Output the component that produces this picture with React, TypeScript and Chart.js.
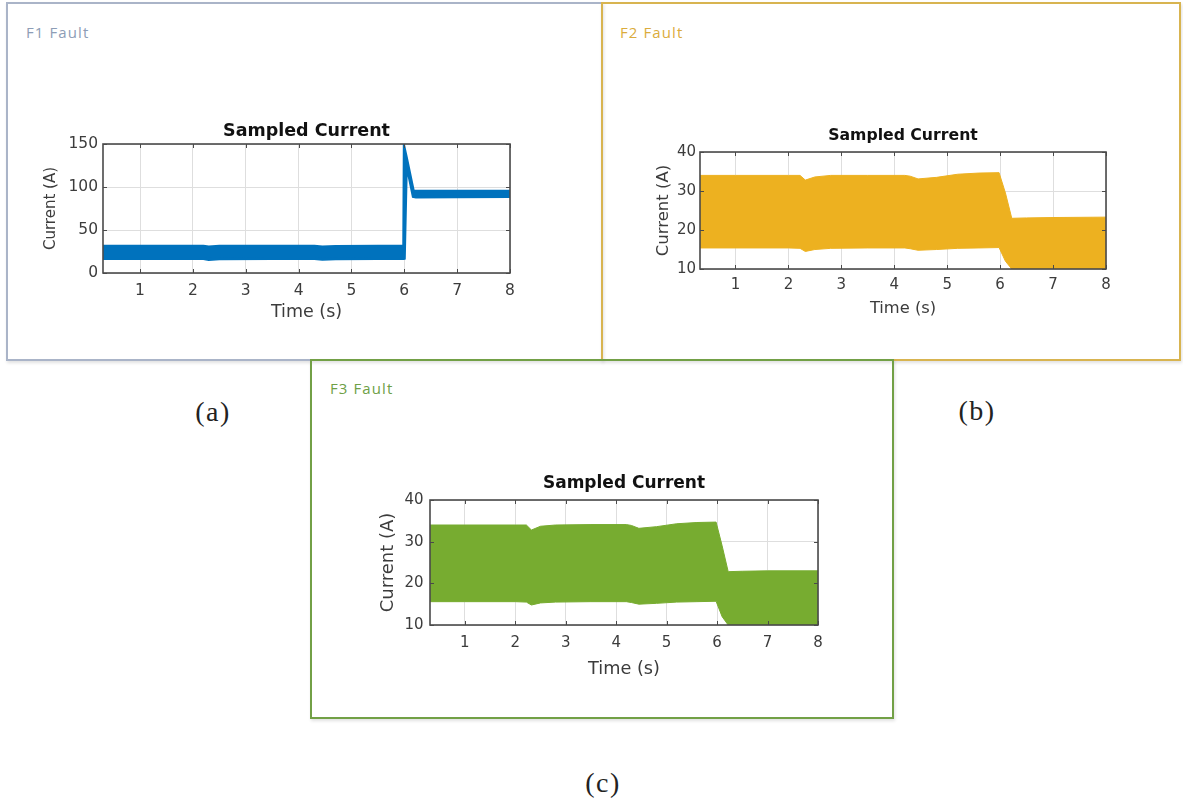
import React, { useEffect, useRef } from 'react';
import { Chart, registerables } from 'chart.js';

Chart.register(...registerables);

// ---------- data ----------
const xTicks = [1, 2, 3, 4, 5, 6, 7, 8];
const yTicksA = [0, 50, 100, 150];
const yTicksB = [10, 20, 30, 40];
const yTicksC = [10, 20, 30, 40];

// F1 fault: envelope of the sampled current (A)
const timeA = [0.3, 1.0, 2.2, 2.3, 2.5, 3.5, 4.3, 4.45, 4.7, 5.5, 5.99, 6.0, 6.04, 6.17, 6.22, 7.0, 8.0];
const upperA = [31, 31, 31, 30.2, 31, 31, 31, 30.3, 30.8, 31.2, 31.2, 145, 134, 95.5, 95, 95, 95];
const lowerA = [16.8, 16.8, 16.8, 15.8, 16.5, 16.8, 16.8, 16.0, 16.5, 16.8, 16.8, 17, 128, 89, 88.5, 88.8, 89];

// F2 fault
const timeB = [0.3, 1.0, 2.0, 2.22, 2.32, 2.5, 2.8, 3.5, 4.2, 4.3, 4.45, 4.8, 5.2, 5.6, 5.98, 6.1, 6.22, 6.5, 7.0, 8.0];
const upperB = [34.0, 34.0, 34.0, 34.0, 32.8, 33.6, 34.0, 34.0, 34.0, 33.8, 33.1, 33.5, 34.3, 34.6, 34.7, 29.5, 23.0, 23.1, 23.2, 23.3];
const lowerB = [15.4, 15.4, 15.4, 15.3, 14.5, 15.0, 15.3, 15.4, 15.4, 15.2, 14.8, 15.0, 15.3, 15.4, 15.5, 12.0, 10.0, 10.0, 10.0, 10.0];

// F3 fault
const timeC = [0.3, 1.0, 2.0, 2.22, 2.32, 2.5, 2.8, 3.5, 4.2, 4.3, 4.45, 4.8, 5.2, 5.6, 5.98, 6.1, 6.22, 6.5, 7.0, 8.0];
const upperC = [34.0, 34.0, 34.0, 34.0, 32.8, 33.7, 34.0, 34.1, 34.1, 33.9, 33.2, 33.6, 34.3, 34.6, 34.7, 29.0, 22.8, 22.9, 23.0, 23.0];
const lowerC = [15.6, 15.6, 15.6, 15.5, 14.8, 15.3, 15.5, 15.6, 15.6, 15.4, 15.0, 15.2, 15.5, 15.6, 15.7, 12.0, 10.0, 10.0, 10.0, 10.0];

const chartTitle = 'Sampled Current';
const xTitle = 'Time (s)';
const yTitle = 'Current (A)';

// ---------- styling ----------
const FONT = 'DejaVu Sans';
const TEXT = '#3c3c3c';
const GRID = '#dedede';
const FRAME = '#4a4a4a';

const framePlugin = {
  id: 'matlabFrame',
  afterDatasetsDraw(chart: any) {
    const { ctx, chartArea } = chart;
    const { left, right, top, bottom } = chartArea;
    const xs = chart.scales.x;
    const ys = chart.scales.y;
    const L = 4;
    ctx.save();
    ctx.strokeStyle = FRAME;
    ctx.lineWidth = 1;
    ctx.beginPath();
    xs.ticks.forEach((t: any) => {
      const px = Math.round(xs.getPixelForValue(t.value)) + 0.5;
      ctx.moveTo(px, bottom);
      ctx.lineTo(px, bottom - L);
      ctx.moveTo(px, top);
      ctx.lineTo(px, top + L);
    });
    ys.ticks.forEach((t: any) => {
      const py = Math.round(ys.getPixelForValue(t.value)) + 0.5;
      ctx.moveTo(left, py);
      ctx.lineTo(left + L, py);
      ctx.moveTo(right, py);
      ctx.lineTo(right - L, py);
    });
    ctx.stroke();
    ctx.lineWidth = 1.6;
    ctx.strokeRect(left, top, right - left, bottom - top);
    ctx.restore();
  },
};

type Spec = {
  left: number; top: number; width: number; height: number;
  yWidth: number; xHeight: number; padRight: number;
  titleSize: number; titlePadTop: number; titlePadBottom: number;
  tickSize: number; yTickPad: number; xTickPad: number;
  yTitleSize: number; xTitleSize: number;
  color: string; bw: number;
  time: number[]; upper: number[]; lower: number[];
  yMin: number; yMax: number; yTicks: number[];
  xMin: number; xMax: number;
};

function Panel({ s }: { s: Spec }) {
  const ref = useRef<HTMLCanvasElement | null>(null);
  useEffect(() => {
    if (!ref.current) return;
    const up = s.time.map((t, i) => ({ x: t, y: s.upper[i] }));
    const lo = s.time.map((t, i) => ({ x: t, y: s.lower[i] }));
    const chart = new Chart(ref.current, {
      type: 'line',
      data: {
        datasets: [
          { data: up, borderColor: s.color, backgroundColor: s.color, borderWidth: s.bw, pointRadius: 0, fill: false, tension: 0 },
          { data: lo, borderColor: s.color, backgroundColor: s.color, borderWidth: s.bw, pointRadius: 0, fill: '-1', tension: 0 },
        ],
      } as any,
      options: {
        responsive: false,
        animation: false,
        devicePixelRatio: 1,
        layout: { padding: { left: 0, right: s.padRight, top: 0, bottom: 0 } },
        plugins: {
          legend: { display: false },
          tooltip: { enabled: false },
          title: {
            display: true,
            text: chartTitle,
            fullSize: false,
            color: '#111111',
            font: { family: FONT, size: s.titleSize, weight: 'bold', lineHeight: 1.2 },
            padding: { top: s.titlePadTop, bottom: s.titlePadBottom },
          },
        },
        scales: {
          x: {
            type: 'linear',
            min: s.xMin,
            max: s.xMax,
            afterBuildTicks: (sc: any) => { sc.ticks = xTicks.map((v) => ({ value: v })); },
            afterFit: (sc: any) => { sc.height = s.xHeight; sc.paddingLeft = 0; sc.paddingRight = 0; },
            grid: { color: GRID, lineWidth: 1, drawTicks: false },
            border: { display: false },
            ticks: { color: TEXT, font: { family: FONT, size: s.tickSize, lineHeight: 1.2 }, padding: s.xTickPad, maxRotation: 0, autoSkip: false },
            title: { display: true, text: xTitle, color: TEXT, font: { family: FONT, size: s.xTitleSize, lineHeight: 1.2 }, padding: 0 },
          },
          y: {
            type: 'linear',
            min: s.yMin,
            max: s.yMax,
            afterBuildTicks: (sc: any) => { sc.ticks = s.yTicks.map((v) => ({ value: v })); },
            afterFit: (sc: any) => { sc.width = s.yWidth; sc.paddingTop = 0; sc.paddingBottom = 0; },
            grid: { color: GRID, lineWidth: 1, drawTicks: false },
            border: { display: false },
            ticks: { color: TEXT, font: { family: FONT, size: s.tickSize, lineHeight: 1.2 }, padding: s.yTickPad, autoSkip: false },
            title: { display: true, text: yTitle, color: TEXT, font: { family: FONT, size: s.yTitleSize, lineHeight: 1.2 }, padding: 0 },
          },
        },
      } as any,
      plugins: [framePlugin],
    });
    return () => chart.destroy();
  }, [s]);
  return (
    <canvas
      ref={ref}
      width={s.width}
      height={s.height}
      style={{ position: 'absolute', left: s.left, top: s.top, width: s.width, height: s.height }}
    />
  );
}

const specA: Spec = {
  left: 42, top: 118, width: 480, height: 205,
  yWidth: 61, xHeight: 50, padRight: 12,
  titleSize: 17.5, titlePadTop: 2.5, titlePadBottom: 2.5,
  tickSize: 15.5, yTickPad: 5, xTickPad: 9,
  yTitleSize: 15, xTitleSize: 17.5,
  color: '#0072BD', bw: 3,
  time: timeA, upper: upperA, lower: lowerA,
  yMin: 0, yMax: 150, yTicks: yTicksA, xMin: 0.3, xMax: 8,
};

const specB: Spec = {
  left: 654, top: 124, width: 464, height: 195,
  yWidth: 46, xHeight: 50, padRight: 12,
  titleSize: 15.7, titlePadTop: 2.5, titlePadBottom: 6.66,
  tickSize: 15, yTickPad: 4, xTickPad: 7,
  yTitleSize: 16.5, xTitleSize: 16.3,
  color: '#EDB120', bw: 1,
  time: timeB, upper: upperB, lower: lowerB,
  yMin: 10, yMax: 40, yTicks: yTicksB, xMin: 0.33, xMax: 8,
};

const specC: Spec = {
  left: 378, top: 472, width: 452, height: 208,
  yWidth: 52, xHeight: 55, padRight: 12,
  titleSize: 17, titlePadTop: 1.8, titlePadBottom: 5.8,
  tickSize: 15, yTickPad: 6.5, xTickPad: 9,
  yTitleSize: 18, xTitleSize: 17.7,
  color: '#77AC30', bw: 1,
  time: timeC, upper: upperC, lower: lowerC,
  yMin: 10, yMax: 40, yTicks: yTicksC, xMin: 0.31, xMax: 8,
};

const boxStyle = (left: number, top: number, width: number, height: number, color: string): React.CSSProperties => ({
  position: 'absolute', left, top, width, height, boxSizing: 'border-box',
  border: `2px solid ${color}`, boxShadow: '1px 2px 3px rgba(0,0,0,0.12)',
});

const faultStyle = (left: number, top: number, color: string): React.CSSProperties => ({
  position: 'absolute', left, top, fontFamily: '"Open Sans", sans-serif', fontSize: 15,
  lineHeight: '16px', letterSpacing: '1.1px', color, whiteSpace: 'nowrap',
});

const capStyle = (cx: number, cy: number): React.CSSProperties => ({
  position: 'absolute', left: cx - 40, top: cy - 16, width: 80, textAlign: 'center',
  fontFamily: '"Liberation Serif", serif', fontSize: 28, lineHeight: '32px', letterSpacing: '1.5px', color: '#222',
});

export default function App() {
  return (
    <div style={{ position: 'absolute', left: 0, top: 0, width: 1183, height: 805, background: '#ffffff', overflow: 'hidden' }}>
      <div style={boxStyle(6, 2, 597, 359, '#aab4c8')} />
      <div style={boxStyle(601, 2, 580, 359, '#d8b450')} />
      <div style={boxStyle(310, 359, 584, 360, '#72a046')} />
      <div style={faultStyle(26, 24, '#8d9db6')}>F1 Fault</div>
      <div style={faultStyle(620, 24, '#dbac3c')}>F2 Fault</div>
      <div style={faultStyle(330, 380, '#6ea046')}>F3 Fault</div>
      <Panel s={specA} />
      <Panel s={specB} />
      <Panel s={specC} />
      <div style={capStyle(213, 412)}>(a)</div>
      <div style={capStyle(977, 411)}>(b)</div>
      <div style={capStyle(603, 783)}>(c)</div>
    </div>
  );
}
